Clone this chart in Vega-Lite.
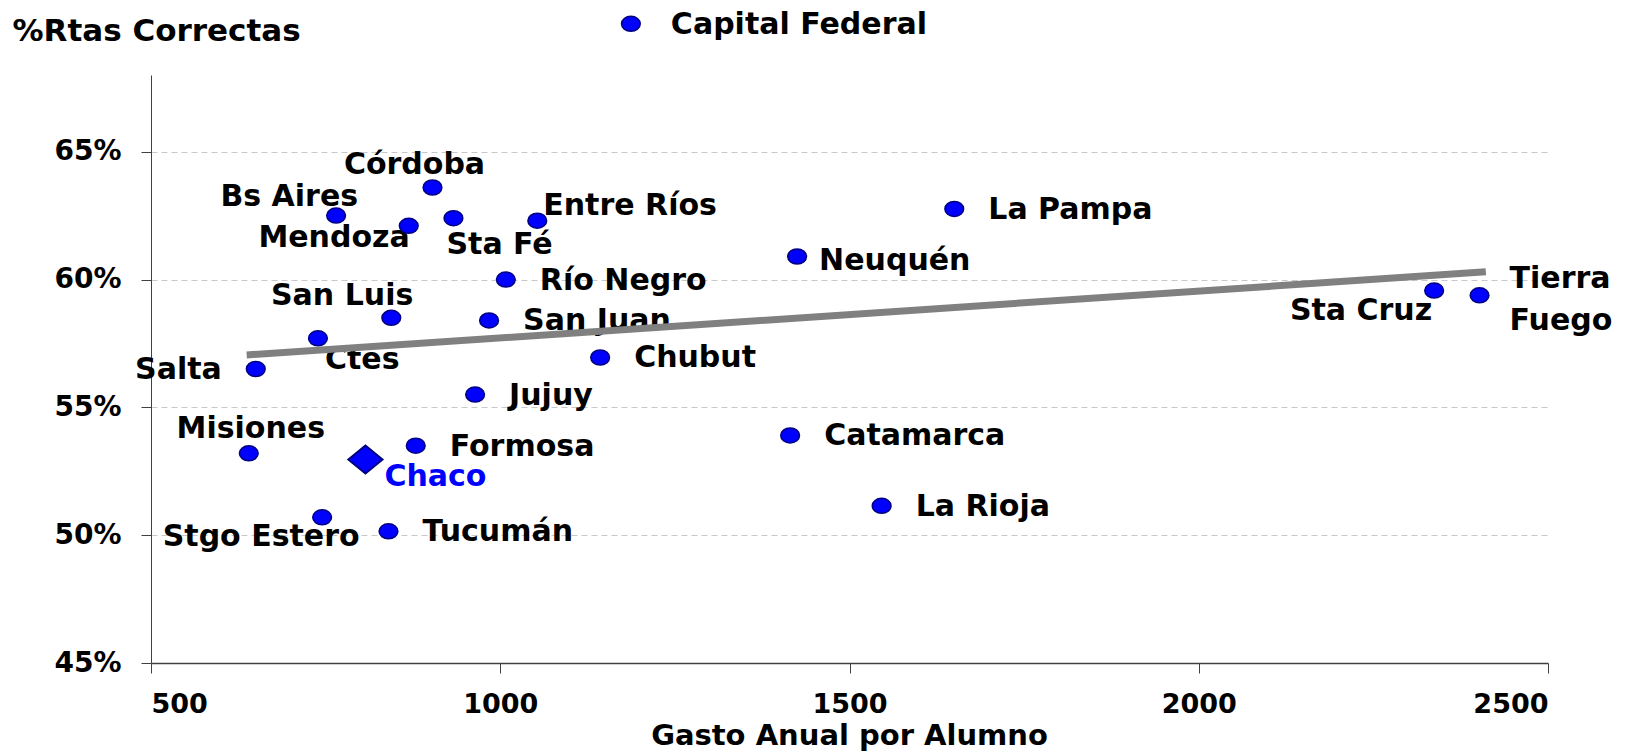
{
  "$schema": "https://vega.github.io/schema/vega-lite/v6.json",
  "autosize": {"type": "none"},
  "padding": {"left": 151, "top": 75, "right": 82, "bottom": 89},
  "width": 1397,
  "height": 588,
  "background": "white",
  "config": {
    "view": {"stroke": null},
    "font": "DejaVu Sans",
    "text": {"font": "DejaVu Sans", "fontWeight": "bold", "fontSize": 30, "baseline": "alphabetic", "color": "black"}
  },
  "datasets": {
    "prov": [
      {"provincia": "Capital Federal", "gasto": 1187, "rtas": 0.700},
      {"provincia": "Córdoba", "gasto": 903, "rtas": 0.636},
      {"provincia": "Bs Aires", "gasto": 765, "rtas": 0.625},
      {"provincia": "Mendoza", "gasto": 869, "rtas": 0.621},
      {"provincia": "Sta Fé", "gasto": 933, "rtas": 0.624},
      {"provincia": "Entre Ríos", "gasto": 1053, "rtas": 0.623},
      {"provincia": "Río Negro", "gasto": 1008, "rtas": 0.600},
      {"provincia": "San Luis", "gasto": 844, "rtas": 0.585},
      {"provincia": "San Juan", "gasto": 984, "rtas": 0.584},
      {"provincia": "Ctes", "gasto": 739, "rtas": 0.577},
      {"provincia": "Salta", "gasto": 650, "rtas": 0.565},
      {"provincia": "Chubut", "gasto": 1143, "rtas": 0.5695},
      {"provincia": "Jujuy", "gasto": 964, "rtas": 0.555},
      {"provincia": "Misiones", "gasto": 640, "rtas": 0.532},
      {"provincia": "Chaco", "gasto": 807, "rtas": 0.5296},
      {"provincia": "Formosa", "gasto": 879, "rtas": 0.535},
      {"provincia": "Stgo Estero", "gasto": 745, "rtas": 0.507},
      {"provincia": "Tucumán", "gasto": 840, "rtas": 0.5015},
      {"provincia": "La Pampa", "gasto": 1650, "rtas": 0.6276},
      {"provincia": "Neuquén", "gasto": 1425, "rtas": 0.609},
      {"provincia": "Catamarca", "gasto": 1415, "rtas": 0.539},
      {"provincia": "La Rioja", "gasto": 1546, "rtas": 0.5115},
      {"provincia": "Sta Cruz", "gasto": 2337, "rtas": 0.5957},
      {"provincia": "Tierra Fuego", "gasto": 2402, "rtas": 0.5938}
    ],
    "trend": [
      {"gasto": 637, "rtas": 0.5705},
      {"gasto": 2411, "rtas": 0.603}
    ]
  },
  "data": {"name": "prov"},
  "encoding": {
    "x": {
      "field": "gasto", "type": "quantitative",
      "scale": {"domain": [500, 2500], "nice": false, "zero": false},
      "axis": {
        "values": [500, 1000, 1500, 2000, 2500], "format": "d",
        "grid": false,
        "domainColor": "#404040", "domainWidth": 1.5,
        "tickColor": "#404040", "tickSize": 10,
        "labelFont": "DejaVu Sans", "labelFontWeight": "bold", "labelFontSize": 27, "labelColor": "black",
        "labelPadding": 18,
        "title": "Gasto Anual por Alumno",
        "titleFont": "DejaVu Sans", "titleFontWeight": "bold", "titleFontSize": 29, "titleColor": "black",
        "titleX": 698, "titleY": 81, "titleAlign": "center", "titleBaseline": "alphabetic"
      }
    },
    "y": {
      "field": "rtas", "type": "quantitative",
      "scale": {"domain": [0.45, 0.68], "nice": false, "zero": false},
      "axis": {
        "values": [0.45, 0.5, 0.55, 0.6, 0.65], "format": ".0%",
        "grid": true, "gridDash": [6, 4], "gridColor": "#c8c8c8", "gridWidth": 1,
        "domainColor": "#404040", "domainWidth": 1,
        "tickColor": "#404040", "tickSize": 10,
        "labelFont": "DejaVu Sans", "labelFontWeight": "bold", "labelFontSize": 28, "labelColor": "black",
        "labelPadding": 20,
        "title": "%Rtas Correctas",
        "titleFont": "DejaVu Sans", "titleFontWeight": "bold", "titleFontSize": 31, "titleColor": "black",
        "titleAngle": 0, "titleX": -139, "titleY": -35, "titleAlign": "left", "titleBaseline": "alphabetic"
      }
    }
  },
  "layer": [
    {"transform": [{"filter": {"field": "provincia", "oneOf": ["Río Negro", "San Juan", "Chubut", "Jujuy", "Formosa", "Tucumán", "La Pampa", "Catamarca", "La Rioja"]}}],
     "mark": {"type": "text", "align": "left", "dx": 34, "dy": 10}, "encoding": {"text": {"field": "provincia"}}},
    {"transform": [{"filter": {"field": "provincia", "equal": "Capital Federal"}}],
     "mark": {"type": "text", "align": "left", "dx": 40, "dy": 10}, "encoding": {"text": {"field": "provincia"}}},
    {"transform": [{"filter": {"field": "provincia", "equal": "Córdoba"}}],
     "mark": {"type": "text", "align": "center", "dx": -18, "dy": -13}, "encoding": {"text": {"field": "provincia"}}},
    {"transform": [{"filter": {"field": "provincia", "equal": "Bs Aires"}}],
     "mark": {"type": "text", "align": "right", "dx": 22, "dy": -10}, "encoding": {"text": {"field": "provincia"}}},
    {"transform": [{"filter": {"field": "provincia", "equal": "Mendoza"}}],
     "mark": {"type": "text", "align": "right", "dx": 1, "dy": 21}, "encoding": {"text": {"field": "provincia"}}},
    {"transform": [{"filter": {"field": "provincia", "equal": "Sta Fé"}}],
     "mark": {"type": "text", "align": "left", "dx": -7, "dy": 36}, "encoding": {"text": {"field": "provincia"}}},
    {"transform": [{"filter": {"field": "provincia", "equal": "Entre Ríos"}}],
     "mark": {"type": "text", "align": "left", "dx": 6, "dy": -6}, "encoding": {"text": {"field": "provincia"}}},
    {"transform": [{"filter": {"field": "provincia", "equal": "San Luis"}}],
     "mark": {"type": "text", "align": "right", "dx": 22, "dy": -13}, "encoding": {"text": {"field": "provincia"}}},
    {"transform": [{"filter": {"field": "provincia", "equal": "Ctes"}}],
     "mark": {"type": "text", "align": "left", "dx": 7, "dy": 31}, "encoding": {"text": {"field": "provincia"}}},
    {"transform": [{"filter": {"field": "provincia", "equal": "Salta"}}],
     "mark": {"type": "text", "align": "right", "dx": -34, "dy": 10}, "encoding": {"text": {"field": "provincia"}}},
    {"transform": [{"filter": {"field": "provincia", "equal": "Misiones"}}],
     "mark": {"type": "text", "align": "center", "dx": 2, "dy": -15}, "encoding": {"text": {"field": "provincia"}}},
    {"transform": [{"filter": {"field": "provincia", "equal": "Stgo Estero"}}],
     "mark": {"type": "text", "align": "center", "dx": -61, "dy": 29}, "encoding": {"text": {"field": "provincia"}}},
    {"transform": [{"filter": {"field": "provincia", "equal": "Neuquén"}}],
     "mark": {"type": "text", "align": "left", "dx": 22, "dy": 13}, "encoding": {"text": {"field": "provincia"}}},
    {"transform": [{"filter": {"field": "provincia", "equal": "Sta Cruz"}}],
     "mark": {"type": "text", "align": "right", "dx": -2, "dy": 29}, "encoding": {"text": {"field": "provincia"}}},
    {"transform": [{"filter": {"field": "provincia", "equal": "Tierra Fuego"}}, {"calculate": "split(datum.provincia, ' ')", "as": "lineas"}],
     "mark": {"type": "text", "align": "left", "dx": 30, "dy": -7, "lineHeight": 42}, "encoding": {"text": {"field": "lineas"}}},
    {"transform": [{"filter": {"field": "provincia", "equal": "Chaco"}}],
     "mark": {"type": "text", "align": "left", "dx": 19, "dy": 26, "color": "#0000FF"}, "encoding": {"text": {"field": "provincia"}}},
    {"data": {"name": "trend"},
     "mark": {"type": "line", "color": "#808080", "strokeWidth": 7, "strokeCap": "butt"}},
    {"transform": [{"filter": {"field": "provincia", "oneOf": ["Chaco"]}}],
     "mark": {"type": "point", "filled": true, "shape": "M-1.22,0L0,-1L1.22,0L0,1Z", "size": 784, "fill": "#0000FF", "stroke": "#000080", "strokeWidth": 2, "opacity": 1}},
    {"transform": [{"filter": "datum.provincia !== 'Chaco'"}],
     "mark": {"type": "point", "filled": true, "shape": "M-1.25,0C-1.25,-0.5523,-0.6904,-1,0,-1C0.6904,-1,1.25,-0.5523,1.25,0C1.25,0.5523,0.6904,1,0,1C-0.6904,1,-1.25,0.5523,-1.25,0Z", "size": 225, "fill": "#0000FF", "stroke": "#000080", "strokeWidth": 1.5, "opacity": 1}}
  ]
}
